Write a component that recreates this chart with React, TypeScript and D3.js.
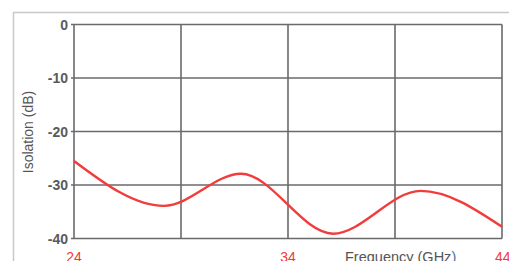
import React, { useEffect, useRef } from 'react';
import * as d3 from 'd3';

// isolation curve (end points and extrema)
const freqs = [24, 28.2, 31.8, 36.1, 40.2, 44];
const isolation = [-25.5, -33.9, -27.9, -39.1, -31.1, -37.8];
const yTicks = [0, -10, -20, -30, -40];
const xGrid = [24, 29, 34, 39, 44];
const xLabels = [24, 34, 44];

export default function App() {
    const ref = useRef<SVGSVGElement>(null);

    useEffect(() => {
        const width = 509, height = 261;
        const left = 74, right = 502, top = 24.5, bottom = 238.5;
        const font = 'Liberation Sans, Arial, sans-serif';

        const svg = d3.select(ref.current);
        svg.selectAll('*').remove();

        const x = d3.scaleLinear().domain([24, 44]).range([left, right]);
        const y = d3.scaleLinear().domain([0, -40]).range([top, bottom]);

        //outer frame
        svg.append('path')
            .attr('d', `M13.5,${height} L13.5,12.5 L${width},12.5`)
            .attr('fill', 'none')
            .attr('stroke', '#c8c8c8')
            .attr('stroke-width', 1.5);

        //grid
        const grid = svg.append('g').attr('stroke', '#6a6a6a').attr('stroke-width', 1.6);
        yTicks.forEach(t => {
            grid.append('line')
                .attr('x1', left - 3).attr('x2', right)
                .attr('y1', y(t)).attr('y2', y(t));
        });
        xGrid.forEach(t => {
            grid.append('line')
                .attr('x1', x(t)).attr('x2', x(t))
                .attr('y1', top).attr('y2', bottom);
        });

        //y tick labels
        svg.append('g')
            .selectAll('text')
            .data(yTicks)
            .join('text')
            .attr('x', left - 6)
            .attr('y', d => y(d) + 5)
            .attr('text-anchor', 'end')
            .attr('font-family', font)
            .attr('font-size', 14)
            .attr('font-weight', 'bold')
            .attr('fill', '#5a5a5a')
            .text(d => d);

        //x tick labels (cut by the bottom edge, as in the original)
        svg.append('g')
            .selectAll('text')
            .data(xLabels)
            .join('text')
            .attr('x', d => x(d))
            .attr('y', 262)
            .attr('text-anchor', d => d === 44 ? 'start' : 'middle')
            .attr('dx', d => d === 44 ? -7 : 0)
            .attr('font-family', font)
            .attr('font-size', 14)
            .attr('fill', '#f03a3a')
            .text(d => d);

        const xt = svg.append('text')
            .attr('x', 345)
            .attr('y', 262)
            .attr('font-family', font)
            .attr('font-size', 14.5)
            .attr('fill', '#555');
        xt.append('tspan').text('Frequency (GHz');
        xt.append('tspan').attr('fill', '#4a6fb0').text(')');

        svg.append('text')
            .attr('transform', 'translate(33, 132) rotate(-90)')
            .attr('text-anchor', 'middle')
            .attr('font-family', font)
            .attr('font-size', 14)
            .attr('fill', '#555')
            .text('Isolation (dB)');

        //curve
        const line = d3.line<number>()
            .x((d, i) => x(freqs[i]))
            .y(d => y(d))
            .curve(d3.curveMonotoneX);

        svg.append('path')
            .attr('d', line(isolation))
            .attr('fill', 'none')
            .attr('stroke', '#f23b3b')
            .attr('stroke-width', 2.4);
    }, []);

    return (
        <svg ref={ref} width={509} height={261}
            style={{ position: 'absolute', left: 0, top: 0, background: '#fff' }} />
    );
}
